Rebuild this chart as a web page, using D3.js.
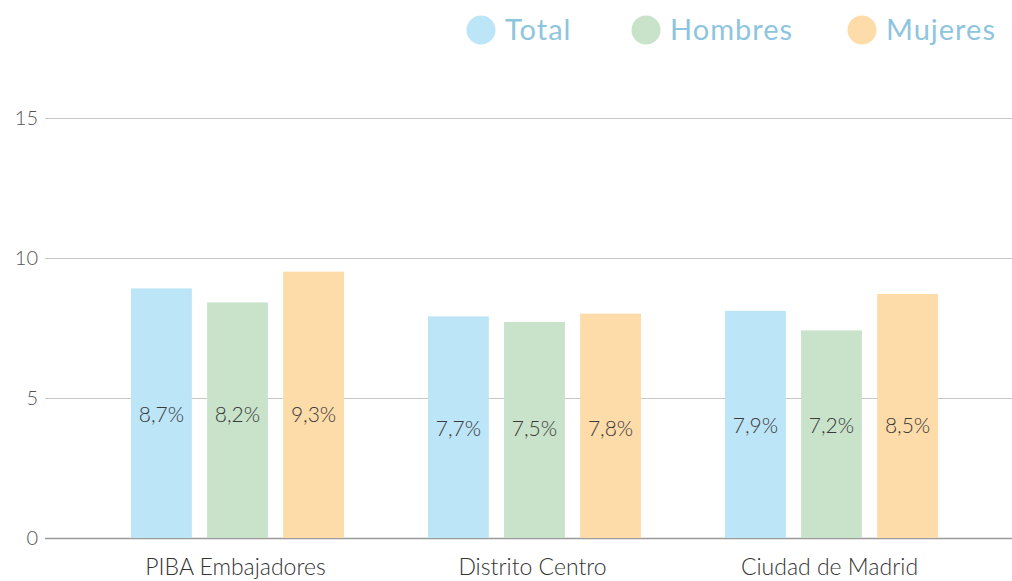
<!DOCTYPE html>
<html>
<head>
<meta charset="utf-8">
<script src="https://cdn.jsdelivr.net/npm/d3@7"></script>
<style>
  body { margin: 0; background: #fff; }
  svg { display: block; }
</style>
</head>
<body>
<svg width="1012" height="581"></svg>
<script>
// datos
const categories = ["PIBA Embajadores", "Distrito Centro", "Ciudad de Madrid"];
const seriesNames = ["Total", "Hombres", "Mujeres"];
const totalValues = [8.7, 7.7, 7.9];
const hombresValues = [8.2, 7.5, 7.2];
const mujeresValues = [9.3, 7.8, 8.5];
const yTicks = [0, 5, 10, 15];

const colors = ["#bde5f8", "#c9e3cb", "#fddcaa"];
const seriesValues = [totalValues, hombresValues, mujeresValues];

const svg = d3.select("svg");

const y = d3.scaleLinear()
    .domain([0, 15])
    .range([538, 118]);

const x0 = d3.scaleBand()
    .domain(categories)
    .range([89, 980]);

const x1 = d3.scaleBand()
    .domain(seriesNames)
    .range([0, 213])
    .paddingInner(0.2);

// grid
const grid = svg.append("g");
grid.selectAll("line")
    .data(yTicks)
    .enter()
    .append("line")
    .attr("x1", 45)
    .attr("x2", 1012)
    .attr("y1", d => Math.round(y(d)) + 0.5)
    .attr("y2", d => Math.round(y(d)) + 0.5)
    .attr("stroke", d => d === 0 ? "#9a9a9a" : "#c6c6c6")
    .attr("stroke-width", d => d === 0 ? 1.5 : 1);

grid.selectAll("text")
    .data(yTicks)
    .enter()
    .append("text")
    .attr("x", 38)
    .attr("y", d => y(d))
    .attr("dy", "0.35em")
    .attr("text-anchor", "end")
    .attr("font-family", "Lato")
    .attr("font-weight", 300)
    .attr("font-size", 20)
    .attr("fill", "#555")
    .text(d => d);

// barras (el original dibuja las barras algo mas altas que el valor)
const barLift = 6;

const groups = svg.selectAll("g.cat")
    .data(categories)
    .enter()
    .append("g")
    .attr("class", "cat")
    .attr("transform", d => "translate(" + (x0(d) + (x0.bandwidth() - 213) / 2) + ",0)");

groups.selectAll("rect")
    .data((d, i) => seriesNames.map((s, j) => ({ s: s, v: seriesValues[j][i], c: colors[j] })))
    .enter()
    .append("rect")
    .attr("x", d => x1(d.s))
    .attr("width", x1.bandwidth())
    .attr("y", d => y(d.v) - barLift)
    .attr("height", d => y(0) - y(d.v) + barLift)
    .attr("fill", d => d.c);

// las etiquetas de cada grupo van a media altura de la barra Total
groups.selectAll("text")
    .data((d, i) => seriesNames.map((s, j) => ({ s: s, v: seriesValues[j][i], t: totalValues[i] })))
    .enter()
    .append("text")
    .attr("x", d => x1(d.s) + x1.bandwidth() / 2)
    .attr("y", d => (y(d.t) - barLift + y(0)) / 2 + 1)
    .attr("dy", "0.35em")
    .attr("text-anchor", "middle")
    .attr("font-family", "Lato")
    .attr("font-weight", 300)
    .attr("font-size", 21)
    .attr("fill", "#3a3a3a")
    .text(d => String(d.v).replace(".", ",") + "%");

// etiquetas de categoria
svg.selectAll("text.cat-label")
    .data(categories)
    .enter()
    .append("text")
    .attr("class", "cat-label")
    .attr("x", d => x0(d) + x0.bandwidth() / 2 - 2)
    .attr("y", 567)
    .attr("dy", "0.35em")
    .attr("text-anchor", "middle")
    .attr("font-family", "Lato")
    .attr("font-weight", 300)
    .attr("font-size", 23)
    .attr("fill", "#333")
    .text(d => d);

// leyenda
const legendX = [481, 646, 862];
const legend = svg.selectAll("g.legend")
    .data(seriesNames)
    .enter()
    .append("g")
    .attr("class", "legend")
    .attr("transform", (d, i) => "translate(" + legendX[i] + ",30)");

legend.append("circle")
    .attr("r", 14.5)
    .attr("fill", (d, i) => colors[i]);

legend.append("text")
    .attr("x", 24)
    .attr("dy", "0.35em")
    .attr("font-family", "Lato")
    .attr("font-size", 29)
    .attr("letter-spacing", 1)
    .attr("fill", "#8ec5de")
    .text(d => d);
</script>
</body>
</html>
